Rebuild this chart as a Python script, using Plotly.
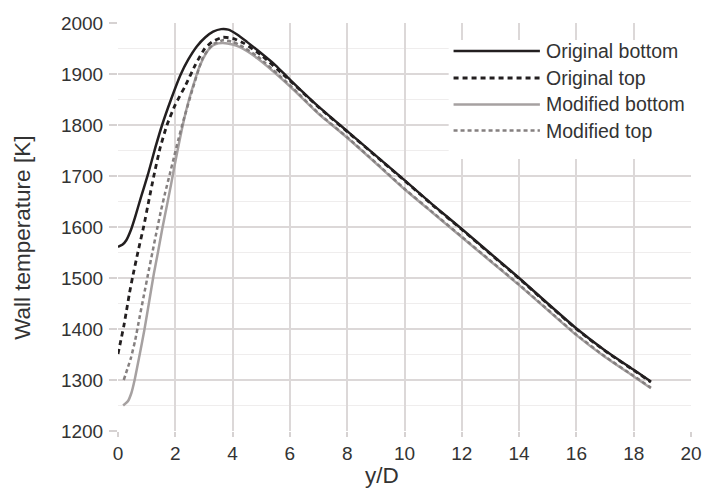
import plotly.graph_objects as go

# ---- data ----
series_names = ["Original bottom", "Original top", "Modified bottom", "Modified top"]

x_orig_bottom = [0, 0.15, 0.29, 0.45, 0.6, 0.8, 1.04, 1.3, 1.54, 1.85, 2.18, 2.45, 2.75,
                 3.05, 3.32, 3.6, 3.85, 4.17, 4.5, 4.86, 5.5, 6, 7, 8, 9, 10, 11, 12, 13, 14, 15,
                 16, 17, 18, 18.6]
t_orig_bottom = [1561, 1565, 1574, 1594, 1620, 1658, 1702, 1755, 1800, 1850, 1898, 1928, 1954,
                 1972, 1983, 1988, 1987, 1977, 1963, 1947, 1917, 1889, 1836, 1788, 1740, 1692,
                 1643, 1596, 1548, 1500, 1450, 1401, 1358, 1320, 1297]

x_orig_top = [0, 0.1, 0.2, 0.3, 0.4, 0.51, 0.7, 0.9, 1.07, 1.25, 1.47, 1.71, 2.0, 2.35, 2.7,
              3.03, 3.31, 3.66, 4.0, 4.4, 5.0, 6, 7, 8, 9, 10, 11, 12, 13, 14, 15,
              16, 17, 18, 18.6]
t_orig_top = [1351, 1378, 1405, 1437, 1470, 1502, 1552, 1602, 1650, 1700, 1755, 1800, 1840,
              1877, 1918, 1950, 1964, 1972, 1970, 1960, 1937, 1887, 1835, 1787, 1739, 1691,
              1642, 1595, 1547, 1499, 1449, 1400, 1357, 1319, 1296]

x_mod_bottom = [0.18, 0.35, 0.47, 0.58, 0.74, 0.92, 1.1, 1.25, 1.4, 1.55, 1.7, 1.85, 2.0, 2.15,
                2.3, 2.47, 2.63, 2.8, 2.97, 3.15, 3.31, 3.5, 3.66, 4.0, 4.24, 4.86, 6, 7, 8, 9,
                10, 11, 12, 13, 14, 15, 16, 17, 18, 18.6]
t_mod_bottom = [1250, 1259, 1275, 1300, 1345, 1398, 1458, 1508, 1552, 1598, 1640, 1683, 1728,
                1770, 1810, 1848, 1878, 1908, 1930, 1947, 1956, 1960, 1961, 1958, 1953, 1931,
                1876, 1822, 1775, 1725, 1674, 1627, 1580, 1533, 1486, 1437, 1388, 1345, 1307,
                1284]

x_mod_top = [0.2, 0.33, 0.45, 0.6, 0.75, 0.9, 1.05, 1.2, 1.35, 1.5, 1.65, 1.8, 1.95, 2.1, 2.3,
             2.6, 2.97, 3.31, 3.66, 4.0, 4.24, 4.86, 6, 7, 8, 9, 10, 11, 12, 13, 14, 15, 16, 17,
             18, 18.6]
t_mod_top = [1300, 1322, 1343, 1378, 1422, 1465, 1508, 1550, 1592, 1632, 1668, 1702, 1736, 1770,
             1812, 1870, 1933, 1958, 1966, 1963, 1957, 1935, 1878, 1823, 1776, 1726, 1675, 1628,
             1581, 1534, 1487, 1438, 1389, 1346, 1308, 1285]

x_ticks = [0, 2, 4, 6, 8, 10, 12, 14, 16, 18, 20]
y_ticks = [1200, 1300, 1400, 1500, 1600, 1700, 1800, 1900, 2000]

# ---- styles ----
colors = ["#231f20", "#231f20", "#a6a1a1", "#858080"]
dashes = ["solid", "5px,4px", "solid", "4px,3px"]
widths = [2.5, 2.8, 2.5, 2.5]
FONT = "Liberation Sans, Arial, sans-serif"
TXT = "#333333"

xs = [x_orig_bottom, x_orig_top, x_mod_bottom, x_mod_top]
ys = [t_orig_bottom, t_orig_top, t_mod_bottom, t_mod_top]

fig = go.Figure()
for name, x, y, c, d, w in zip(series_names, xs, ys, colors, dashes, widths):
    fig.add_trace(go.Scatter(x=x, y=y, mode="lines", name=name,
                             line=dict(color=c, dash=d, width=w, shape="spline", smoothing=0.5),
                             showlegend=False))

L, R, T, B = 118, 12, 23, 59
W, H = 714, 490
pw, ph = W - L - R, H - T - B

def px_x(px):
    return (px - L) / pw

def px_y(py):
    return (H - B - py) / ph

shapes = [dict(type="rect", xref="paper", yref="paper", x0=px_x(455), x1=1.0,
               y0=px_y(159), y1=px_y(40), fillcolor="white", line=dict(width=0), layer="above")]
annotations = []
rows_y = [51, 78, 104.5, 130.5]
for name, c, d, w, ry in zip(series_names, colors, dashes, widths, rows_y):
    shapes.append(dict(type="line", xref="paper", yref="paper", x0=px_x(460), x1=px_x(548),
                       y0=px_y(ry), y1=px_y(ry), line=dict(color=c, dash=d, width=w),
                       layer="above"))
    annotations.append(dict(text=name, xref="paper", yref="paper", x=px_x(552), y=px_y(ry),
                            xanchor="left", yanchor="middle", showarrow=False,
                            font=dict(family=FONT, size=19.5, color=TXT)))

annotations.append(dict(text="Wall temperature [K]", xref="paper", yref="paper",
                        x=px_x(20), y=px_y(238), textangle=-90, xanchor="center",
                        yanchor="middle", showarrow=False,
                        font=dict(family=FONT, size=22.5, color=TXT)))
annotations.append(dict(text="y/D", xref="paper", yref="paper",
                        x=px_x(387), y=px_y(475), xanchor="center", yanchor="middle",
                        showarrow=False, font=dict(family=FONT, size=22.5, color=TXT)))

fig.update_layout(
    width=W, height=H,
    margin=dict(l=L, r=R, t=T, b=B, pad=0),
    paper_bgcolor="white", plot_bgcolor="white",
    font=dict(family=FONT, color=TXT),
    shapes=shapes, annotations=annotations,
    xaxis=dict(range=[0, 20], tickvals=x_ticks, ticks="outside", ticklen=5,
               tickcolor="#d6d2d2", tickwidth=1.5, showgrid=True, gridcolor="#dcd8d8",
               gridwidth=1.5, zeroline=False, showline=False,
               tickfont=dict(family=FONT, size=19, color=TXT), ticklabelstandoff=0),
    yaxis=dict(range=[1200, 2000], tickvals=y_ticks, ticks="outside", ticklen=8,
               tickcolor="#d6d2d2", tickwidth=1.5, showgrid=True, gridcolor="#dcd8d8",
               gridwidth=1.5, zeroline=False, showline=False,
               minor=dict(dtick=50, showgrid=True, gridcolor="#efeded", gridwidth=1),
               tickfont=dict(family=FONT, size=19, color=TXT), ticklabelstandoff=2),
)

fig.write_html("out.html")
